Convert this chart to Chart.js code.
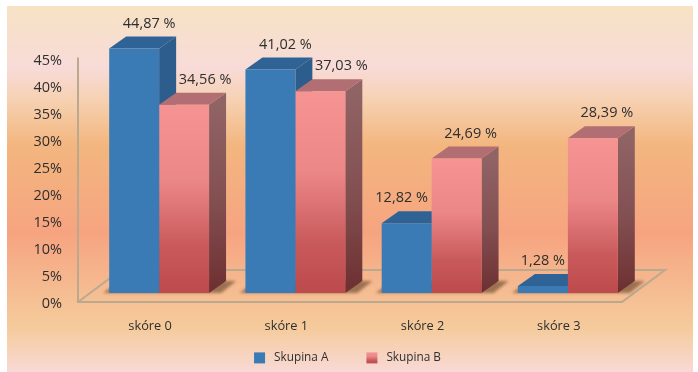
<!DOCTYPE html>
<html>
<head>
<meta charset="utf-8">
<script src="https://cdn.jsdelivr.net/npm/chart.js@4"></script>
<style>
html, body { margin: 0; padding: 0; background: #fff; }
canvas { display: block; }
</style>
</head>
<body>
<canvas id="chart" width="698" height="372"></canvas>
<script>
const categories = ['skóre 0', 'skóre 1', 'skóre 2', 'skóre 3'];
const skupinaA = [44.87, 41.02, 12.82, 1.28];
const skupinaB = [34.56, 37.03, 24.69, 28.39];
const axisTicks = [0, 5, 10, 15, 20, 25, 30, 35, 40, 45];

const depthX = 17;
const depthY = 12;
const font = '"Open Sans", "Noto Sans", sans-serif';
const textColor = '#2e2e2e';

// label shift from the bar centre, one row per series
const labelShift = [[15, 15, -5, 0], [21, 21, 14, 14]];

function redGradient(ctx, top, bottom) {
    const g = ctx.createLinearGradient(0, top, 0, bottom);
    g.addColorStop(0, '#f69393');
    g.addColorStop(0.4, '#ec8787');
    g.addColorStop(0.75, '#c95a5c');
    g.addColorStop(1, '#bd4a4c');
    return g;
}

function sideGradient(ctx, top, bottom) {
    const g = ctx.createLinearGradient(0, top, 0, bottom);
    g.addColorStop(0, '#906364');
    g.addColorStop(0.5, '#835052');
    g.addColorStop(1, '#6d2f31');
    return g;
}

function poly(ctx, pts, fill) {
    ctx.beginPath();
    pts.forEach(function(p, i) {
        if (i == 0) ctx.moveTo(p[0], p[1]);
        else ctx.lineTo(p[0], p[1]);
    });
    ctx.closePath();
    ctx.fillStyle = fill;
    ctx.fill();
}

const panel = {
    id: 'panel',
    // the legend sits nearer the axis than its padding would allow
    afterLayout(chart) {
        chart.legend.left += 13;
        chart.legend.right += 13;
        chart.legend.top -= 20;
    },
    beforeDraw(chart) {
        const ctx = chart.ctx;
        const g = ctx.createLinearGradient(0, 6, 0, 372);
        g.addColorStop(0, '#f6e2c4');
        g.addColorStop(0.17, '#f8dbd8');
        g.addColorStop(0.26, '#f6d0b0');
        g.addColorStop(0.38, '#f3b67f');
        g.addColorStop(0.62, '#f6a480');
        g.addColorStop(0.88, '#f5cb9c');
        g.addColorStop(1, '#f8d9d6');
        ctx.fillStyle = g;
        ctx.fillRect(7, 6, 686, 366);
    }
};

const floor3d = {
    id: 'floor3d',
    beforeDatasetsDraw(chart) {
        const ctx = chart.ctx;
        const area = chart.chartArea;
        const tickAxis = chart.scales.yTicks;
        const front = area.bottom;
        const axisX = area.left - 13;
        const frontRight = area.right - 14;
        const backRight = area.right + 29;
        const backY = front - 32;

        ctx.save();
        ctx.strokeStyle = '#bba98f';
        ctx.lineWidth = 2;
        ctx.beginPath();
        ctx.moveTo(axisX, tickAxis.getPixelForValue(45) - 3);
        ctx.lineTo(axisX, front);
        ctx.lineTo(frontRight, front);
        ctx.lineTo(backRight, backY);
        ctx.lineTo(axisX + 43, backY);
        ctx.lineTo(axisX, front);
        ctx.stroke();

        // soft shadow under every pair of bars
        const a = chart.getDatasetMeta(0).data;
        const b = chart.getDatasetMeta(1).data;
        ctx.filter = 'blur(1.5px)';
        a.forEach(function(bar, i) {
            const left = bar.x - bar.width / 2;
            const right = b[i].x + b[i].width / 2;
            poly(ctx, [[left - 6, bar.base], [left + depthX - 6, bar.base - depthY],
                [right + depthX + 10, bar.base - depthY], [right + 12, bar.base]], 'rgba(95,65,40,0.6)');
        });
        ctx.filter = 'none';

        // top and side faces, series by series so B covers A
        [0, 1].forEach(function(s) {
            chart.getDatasetMeta(s).data.forEach(function(bar) {
                const l = bar.x - bar.width / 2;
                const r = bar.x + bar.width / 2;
                const side = s == 0 ? '#2d5d8c' : sideGradient(ctx, bar.y, bar.base);
                const top = s == 0 ? '#2f6295' : '#b26f73';
                poly(ctx, [[r, bar.y], [r + depthX, bar.y - depthY], [r + depthX, bar.base - depthY], [r, bar.base]], side);
                poly(ctx, [[l, bar.y], [l + depthX, bar.y - depthY], [r + depthX, bar.y - depthY], [r, bar.y]], top);
            });
        });
        ctx.restore();
    }
};

const valueLabels = {
    id: 'valueLabels',
    afterDatasetsDraw(chart) {
        const ctx = chart.ctx;
        ctx.save();
        ctx.font = '14.5px ' + font;
        ctx.fillStyle = textColor;
        ctx.textAlign = 'center';
        ctx.textBaseline = 'middle';
        chart.data.datasets.forEach(function(ds, s) {
            chart.getDatasetMeta(s).data.forEach(function(bar, i) {
                const text = ds.data[i].toFixed(2).replace('.', ',') + ' %';
                ctx.fillText(text, bar.x + labelShift[s][i], bar.y - 25);
            });
        });
        ctx.restore();
    }
};

const chart = new Chart(document.getElementById('chart'), {
    type: 'bar',
    data: {
        labels: categories,
        datasets: [
            {
                label: 'Skupina A',
                data: skupinaA,
                yAxisID: 'y',
                backgroundColor: '#3a7bb6',
                borderWidth: 0
            },
            {
                label: 'Skupina B',
                data: skupinaB,
                yAxisID: 'y',
                backgroundColor: function(c) {
                    if (c.type != 'data' || !c.chart.scales.y) return '#e98585';
                    const y = c.chart.scales.y;
                    return redGradient(c.chart.ctx, y.getPixelForValue(c.parsed.y), y.getPixelForValue(0));
                },
                borderWidth: 0
            }
        ]
    },
    plugins: [panel, floor3d, valueLabels],
    options: {
        responsive: false,
        devicePixelRatio: 1,
        animation: false,
        categoryPercentage: 0.733,
        barPercentage: 1,
        layout: { padding: { left: 33, right: 62, top: 32, bottom: 0 } },
        scales: {
            x: {
                grid: { display: false, drawTicks: false },
                border: { display: false },
                afterFit: function(scale) { scale.height = 32; },
                ticks: {
                    padding: 17,
                    labelOffset: -9,
                    color: textColor,
                    font: { family: font, size: 12.8 }
                }
            },
            y: {
                display: false,
                min: -1.65,
                max: 46.85
            },
            yTicks: {
                position: 'left',
                min: 0.28,
                max: 49.22,
                grid: { display: false, drawTicks: false },
                border: { display: false },
                afterFit: function(scale) { scale.width = 58; },
                afterBuildTicks: function(scale) {
                    scale.ticks = axisTicks.map(function(v) { return { value: v }; });
                },
                ticks: {
                    padding: 29,
                    color: textColor,
                    font: { family: font, size: 14.5 },
                    callback: function(v) { return v + '%'; }
                }
            }
        },
        plugins: {
            tooltip: { enabled: false },
            legend: {
                position: 'bottom',
                maxHeight: 38,
                labels: {
                    boxWidth: 11,
                    boxHeight: 11,
                    padding: 38,
                    color: textColor,
                    font: { family: font, size: 11.8 },
                    generateLabels: function(c) {
                        return c.data.datasets.map(function(ds, i) {
                            return {
                                text: ' ' + ds.label,
                                fillStyle: i == 0 ? '#3a7bb6' : redGradient(c.ctx, 352, 363),
                                lineWidth: 0,
                                strokeStyle: 'transparent',
                                fontColor: textColor,
                                datasetIndex: i
                            };
                        });
                    }
                }
            }
        }
    }
});
</script>
</body>
</html>
